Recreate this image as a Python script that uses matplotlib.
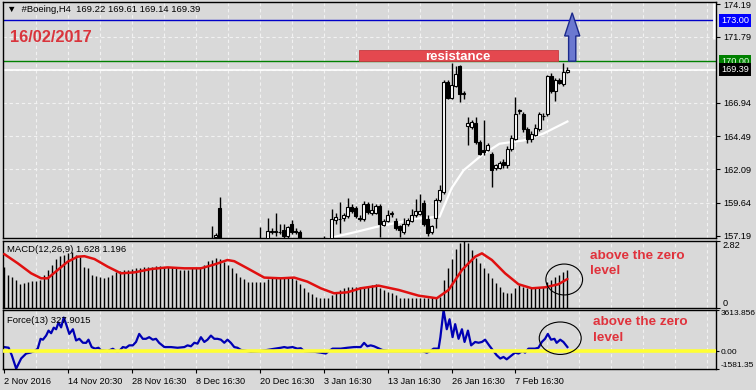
import matplotlib
matplotlib.use('Agg')
import matplotlib.pyplot as plt
import matplotlib.transforms as mtransforms
from matplotlib.patches import Rectangle, Ellipse, Polygon

plt.rcParams['font.family'] = ['Liberation Sans', 'DejaVu Sans']

# ---- price candles (bar index, open, high, low, close) ----
bar_idx = [52, 53, 54, 64, 66, 67, 68, 69, 70, 71, 72, 73, 74, 80, 82, 83, 84, 85, 86, 87,
           88, 89, 90, 91, 92, 93, 94, 95, 96, 97, 98, 99, 100, 101, 102, 103, 104, 105, 106, 107,
           108, 109, 110, 111, 112, 113, 114, 115, 116, 117, 118, 119, 120, 121, 122, 123, 124, 125, 126, 127,
           128, 129, 130, 131, 132, 133, 134, 135, 136, 137, 138, 139, 140, 141]
opens = [156.6, 157.12, 159.23, 156.8, 156.9, 157.50, 157.45, 157.50, 157.65, 157.20, 158.10, 157.55, 157.50, 156.9, 157.0, 158.35, 158.45, 158.50, 158.64, 159.30,
         159.25, 158.50, 158.40, 159.50, 158.85, 158.90, 159.37, 157.98, 158.28, 158.80, 158.30, 157.90, 157.45, 158.06, 158.30, 158.75, 158.80, 159.57, 158.40, 157.45,
         158.50, 159.80, 160.40, 168.50, 167.28, 168.20, 169.66, 167.60, 165.22, 165.20, 165.50, 164.10, 163.50, 163.50, 163.22, 162.15, 162.20, 162.60, 162.37, 163.60,
         164.30, 166.35, 166.10, 165.00, 164.30, 164.60, 165.00, 165.95, 166.16, 168.93, 167.84, 168.62, 168.35, 169.22]
highs = [157.91, 157.40, 160.05, 157.85, 158.50, 157.75, 158.90, 158.10, 158.10, 157.95, 158.35, 157.80, 157.60, 157.2, 159.15, 158.90, 159.66, 158.90, 159.95, 159.50,
         159.40, 158.70, 159.75, 159.70, 159.60, 159.50, 159.50, 158.40, 159.08, 159.00, 158.50, 158.00, 158.50, 158.50, 159.13, 159.88, 160.25, 159.81, 158.70, 158.00,
         160.00, 160.95, 168.60, 168.60, 169.90, 169.66, 169.70, 167.84, 165.90, 165.70, 165.94, 164.20, 165.72, 164.00, 163.33, 162.50, 162.70, 162.80, 163.80, 164.60,
         167.35, 166.50, 166.30, 165.20, 164.90, 165.40, 166.30, 166.20, 169.00, 169.10, 168.80, 168.75, 169.90, 169.61]
lows = [156.3, 156.90, 156.50, 156.5, 156.70, 157.35, 157.20, 157.30, 157.00, 157.00, 157.30, 157.30, 156.70, 156.8, 156.80, 158.10, 157.40, 158.30, 158.50, 158.90,
        158.50, 158.30, 158.30, 158.80, 158.70, 158.80, 157.10, 157.90, 158.20, 158.60, 157.60, 157.10, 157.30, 157.95, 158.20, 158.60, 158.70, 157.90, 157.20, 157.30,
        157.80, 159.70, 160.30, 167.20, 167.20, 168.10, 166.99, 167.25, 163.83, 165.00, 163.90, 163.10, 163.10, 163.40, 160.78, 162.00, 162.10, 162.20, 162.20, 163.40,
        164.20, 166.10, 164.80, 164.00, 164.10, 164.50, 164.90, 165.70, 166.00, 167.70, 167.11, 168.30, 168.20, 169.14]
closes = [156.8, 157.26, 156.80, 156.9, 157.55, 157.55, 157.52, 157.45, 157.20, 157.86, 157.50, 157.50, 156.90, 157.0, 158.42, 158.60, 158.40, 158.72, 159.30, 159.04,
          158.64, 158.45, 159.50, 158.95, 159.10, 159.37, 158.06, 158.28, 158.75, 158.85, 157.75, 157.62, 158.10, 158.35, 158.72, 159.00, 159.00, 158.06, 157.40, 157.92,
          159.85, 160.55, 168.50, 167.33, 168.28, 169.08, 167.62, 167.65, 165.50, 165.55, 164.07, 163.22, 163.35, 163.88, 162.00, 162.37, 162.55, 162.37, 163.60, 164.40,
          166.16, 166.40, 165.00, 164.30, 164.70, 165.10, 166.10, 166.00, 168.93, 167.84, 168.62, 168.40, 169.20, 169.39]

# white moving average on price
ma_x = [81, 82.5, 88, 93, 99, 103, 107.5, 109, 112, 115, 119.5, 124, 130, 135, 141]
ma_v = [157.0, 157.11, 157.48, 157.84, 158.2, 158.46, 158.57, 158.6, 160.69, 162.0, 163.1, 163.95, 164.19, 164.7, 165.58]

# ---- MACD(12,26,9) histogram, one value per bar 0..141 ----
macd_hist = [1.74, 1.41, 1.32, 1.18, 1.00, 1.04, 1.11, 1.13, 1.13, 1.18, 1.39, 1.62, 1.83, 2.06, 2.18, 2.25, 2.30, 2.37, 2.25, 2.16,
             1.74, 1.67, 1.41, 1.36, 1.32, 1.28, 1.32, 1.41, 1.50, 1.55, 1.60, 1.60, 1.64, 1.67, 1.67, 1.71, 1.72, 1.74, 1.76, 1.76,
             1.74, 1.72, 1.71, 1.67, 1.62, 1.60, 1.62, 1.67, 1.67, 1.74, 1.83, 1.97, 2.02, 2.11, 2.06, 1.95, 1.83, 1.67, 1.46, 1.32,
             1.22, 1.11, 1.11, 1.11, 1.11, 1.11, 1.22, 1.25, 1.28, 1.28, 1.28, 1.28, 1.28, 1.18, 1.00, 0.85, 0.69, 0.57, 0.48, 0.43,
             0.43, 0.43, 0.55, 0.66, 0.76, 0.85, 0.90, 0.90, 0.90, 0.90, 0.85, 0.90, 0.97, 1.00, 0.83, 0.76, 0.69, 0.62, 0.55, 0.43,
             0.43, 0.41, 0.41, 0.41, 0.41, 0.43, 0.41, 0.48, 0.41, 0.48, 1.18, 1.67, 2.06, 2.50, 2.72, 2.82, 2.72, 2.44, 2.09, 1.88,
             1.67, 1.46, 1.25, 1.04, 0.90, 0.69, 0.62, 0.62, 0.83, 0.97, 0.90, 0.83, 0.83, 0.83, 0.83, 0.90, 1.11, 1.18, 1.32, 1.41,
             1.50, 1.60]
sig_x = [0, 3.4, 6.75, 9.25, 10.9, 13.4, 15.9, 18.4, 20.1, 22.6, 25.9, 29.25, 32.6, 36.75, 40.9, 45.1, 49.25, 52.6, 55.9, 57.6,
         60.9, 65.1, 69.25, 72.6, 75.9, 79.25, 82.6, 85.9, 89.25, 93.75, 98.75, 103.75, 108.3, 111.25, 114.6, 117.9, 119.6, 122.1,
         125.4, 128.75, 132.1, 135.4, 138.75, 141]
sig_v = [2.27, 1.88, 1.46, 1.25, 1.25, 1.60, 1.95, 2.16, 2.18, 2.06, 1.74, 1.46, 1.50, 1.64, 1.71, 1.67, 1.67, 1.83, 2.02, 1.97,
         1.67, 1.28, 1.25, 1.28, 1.11, 0.83, 0.62, 0.66, 0.83, 0.94, 0.76, 0.52, 0.41, 0.76, 1.60, 2.16, 2.30, 2.02,
         1.46, 1.00, 0.83, 0.87, 1.00, 1.22]

# ---- Force(13) ----
force_x = [0, 1.1, 1.9, 3.0, 4.25, 5.5, 6.6, 7.6, 8.4, 9.1, 9.7, 10.5, 11.1, 11.75, 12.4, 13.0, 13.6, 14.25, 14.9, 15.5,
           16.3, 17.2, 18, 18.8, 19.7, 20.5, 21.1, 21.9, 22.75, 23.6, 24.25, 25.9, 27.2, 28, 28.8, 29.7, 30.5, 31.3, 32.2, 33,
           33.8, 34.7, 35.5, 36.3, 37.2, 38, 38.8, 40.1, 41.75, 43.4, 45.1, 45.9, 46.75, 47.6, 48.4, 49.25, 50.1, 50.9, 51.75, 52.6,
           53.4, 54.25, 55.1, 55.9, 56.75, 57.6, 58.4, 59.25, 60.9, 61.75, 64.25, 65.9, 67.6, 69.25, 70.1, 70.9, 72.2, 73.4, 74.25, 75.1,
           77.6, 79.25, 80.5, 81.3, 82.2, 84.25, 85.9, 87.6, 89.25, 90.1, 90.9, 91.75, 92.6, 93.4, 94.6, 96.25, 101.25, 104.6, 105.8, 106.7,
           107.5, 108.75, 109.2, 110, 110.8, 111.5, 112.25, 112.9, 113.75, 114.6, 115.25, 116.1, 116.9, 117.9, 118.75, 119.6, 120.4, 121.4, 122.5, 123.3,
           124.2, 125, 125.8, 127.1, 127.9, 128.75, 129.75, 130.4, 131.25, 132.9, 133.75, 134.6, 135.4, 136.1, 136.9, 137.75, 138.3, 139.2, 140, 141]
force_v = [350, 294, -372, -1550, -655, -222, -130, 0, 211, 1077, 1000, 1363, 1800, 1570, 2060, 1920, 2515, 2082, 2949, 2370,
           1510, 1920, 930, 1077, 730, 720, 1000, 350, 211, 290, 60, 0, 200, 0, 0, 350, 290, 500, 500, 800,
           1510, 1077, 1077, 1220, 1000, 1077, 720, 350, 350, 290, 350, 500, 420, 730, 650, 1220, 800, 1000, 1360, 1077,
           1077, 1000, 730, 1000, 720, 350, 290, 100, 0, -60, 0, 100, 200, 290, 350, 290, 350, 211, 250, 0,
           -60, -140, -220, 0, 211, 211, 290, 350, 350, 720, 420, 500, 420, 290, 100, 0, 0, 0, -140, 0,
           211, 211, 1220, 3613, 1920, 2800, 1220, 2370, 1077, 1920, 800, 1800, 500, 800, 730, 800, 1000, 500, 0, -372,
           -660, -520, -730, -372, -140, -220, 0, -140, 211, 211, 290, 800, 1077, 1510, 1000, 1077, 720, 1000, 800, 350]

# time axis
time_pos = [0, 16, 32, 48, 64, 80, 96, 112, 128]
time_labels = ['2 Nov 2016', '14 Nov 20:30', '28 Nov 16:30', '8 Dec 16:30', '20 Dec 16:30',
               '3 Jan 16:30', '13 Jan 16:30', '26 Jan 16:30', '7 Feb 16:30']
price_ticks = [157.19, 159.64, 162.09, 164.49, 166.94, 171.79, 174.19]
price_grid = [159.64, 162.09, 164.49, 166.94, 169.39, 171.79]

BG = '#d9d9d9'
GRID = '#f2f2f2'
RED_TXT = '#e0323c'
FS = 6.6

fig = plt.figure(figsize=(7.56, 3.9), dpi=100, facecolor=BG)
ax1 = fig.add_axes([3/756, 1-238/390, 713/756, 236/390], facecolor=BG)
ax2 = fig.add_axes([3/756, 1-308/390, 713/756, 67/390], facecolor=BG)
ax3 = fig.add_axes([3/756, 1-369/390, 713/756, 59/390], facecolor=BG)

grid_x = list(range(8, 178, 8))
for ax in (ax1, ax2, ax3):
    ax.set_xlim(-0.3, 178.2)
    ax.vlines(grid_x, 0, 1, transform=ax.get_xaxis_transform(), colors=GRID,
              lw=0.8, linestyles=(0, (3, 2.5)), zorder=0)
    for s in ax.spines.values():
        s.set_color('black')
        s.set_linewidth(1)
    ax.yaxis.tick_right()
    ax.tick_params(axis='y', length=3, pad=2, labelsize=FS, colors='black')

# ---- price panel ----
ax1.set_ylim(157.04, 174.34)
ax1.hlines(price_grid, 0, 1, transform=ax1.get_yaxis_transform(), colors=GRID,
           lw=0.8, linestyles=(0, (3, 2.5)), zorder=0)
ax1.axhline(173.0, color='#0000c8', lw=1, zorder=1)
ax1.axhline(170.0, color='#008000', lw=1, zorder=1)
ax1.axhline(169.39, color='white', lw=1.2, zorder=1)
ax1.plot(ma_x, ma_v, color='white', lw=1.6, zorder=2)

ax1.vlines(bar_idx, lows, highs, color='black', lw=1, zorder=3)
bottoms = [min(o, c) for o, c in zip(opens, closes)]
heights = [max(abs(c - o), 0.02) for o, c in zip(opens, closes)]
colors = ['white' if c >= o else 'black' for o, c in zip(opens, closes)]
ax1.bar(bar_idx, heights, bottom=bottoms, width=0.72, color=colors,
        edgecolor='black', linewidth=0.8, zorder=4)

ax1.set_xticks([])
ax1.set_yticks(price_ticks)
ax1.set_yticklabels(['%.2f' % v for v in price_ticks])

trans = mtransforms.blended_transform_factory(ax1.transAxes, ax1.transData)
for val, fc, tc in [(173.0, '#0000ff', 'white'), (170.0, '#008000', '#e8ffe8'), (169.39, 'black', 'white')]:
    ax1.text(1.0075, val, '%.2f' % val, transform=trans, ha='left', va='center', color=tc,
             fontsize=FS, clip_on=False, zorder=6,
             bbox=dict(boxstyle='square,pad=0.22', fc=fc, ec='none'))
ax1.vlines(177.6, 171.6, 174.34, color='white', lw=2, zorder=2)

# resistance box
ax1.add_patch(Rectangle((88.8, 170.0), 49.9, 0.82, fc='#e4484f', ec='#c43a40', lw=0.6, zorder=5))
ax1.text(113.6, 170.1, 'resistance', color='white', fontsize=9.5, fontweight='bold',
         ha='center', va='baseline', zorder=6)

# blue arrow
arrow = [(141.3, 170.0), (141.3, 171.85), (140.3, 171.85), (142.2, 173.55),
         (144.1, 171.85), (143.1, 171.85), (143.1, 170.0)]
ax1.add_patch(Polygon(arrow, closed=True, fc='#6b78d0', ec='#1c2a8c', lw=1, zorder=6))

fig.text(7/756, 1-10/390, '\u25bc  #Boeing,H4  169.22 169.61 169.14 169.39', fontsize=6.8,
         va='center', ha='left', family=['Liberation Sans', 'DejaVu Sans'])
fig.text(10/756, 1-37/390, '16/02/2017', color='#d9343c', fontsize=11.8, fontweight='bold',
         va='center', ha='left')

# ---- MACD panel ----
ax2.set_ylim(0, 2.82)
ax2.vlines(range(len(macd_hist)), 0, macd_hist, color='black', lw=1, zorder=2)
ax2.plot(sig_x, sig_v, color='#e01010', lw=1.8, zorder=3, solid_capstyle='round')
ax2.set_xticks([])
ax2.set_yticks([0, 2.82])
ax2.set_yticklabels(['0', '2.82'])
lbl = ax2.get_yticklabels()
lbl[0].set_va('bottom')
lbl[1].set_va('top')
ax2.text(0.006, 0.88, 'MACD(12,26,9) 1.628 1.196', transform=ax2.transAxes, fontsize=6.8,
         va='center', ha='left', zorder=5)
ax2.add_patch(Ellipse((140.2, 1.2), 9.2, 1.3, fill=False, ec='black', lw=0.8, zorder=4))
fig.text(590/756, 1-255.7/390, 'above the zero', color=RED_TXT, fontsize=9.7,
         fontweight='bold', va='center', ha='left')
fig.text(590/756, 1-271/390, 'level', color=RED_TXT, fontsize=9.7,
         fontweight='bold', va='center', ha='left')

# ---- Force panel ----
ax3.set_ylim(-1581.35, 3613.856)
ax3.plot(force_x, force_v, color='#0000b4', lw=1.6, zorder=2)
ax3.axhline(0, color='#ffff33', lw=2.6, zorder=3)
ax3.set_yticks([-1581.35, 0, 3613.856])
ax3.set_yticklabels(['-1581.35', '0.00', '3613.856'])
ax3.tick_params(axis='y', length=2, pad=1.5, labelsize=6.0)
lbl = ax3.get_yticklabels()
lbl[0].set_va('bottom')
lbl[2].set_va('top')
ax3.text(0.006, 0.83, 'Force(13) 327.9015', transform=ax3.transAxes, fontsize=6.8,
         va='center', ha='left', zorder=5)
ax3.add_patch(Ellipse((139.2, 1129), 10.5, 2857, fill=False, ec='black', lw=0.8, zorder=4))
fig.text(593/756, 1-322.3/390, 'above the zero', color=RED_TXT, fontsize=9.7,
         fontweight='bold', va='center', ha='left')
fig.text(593/756, 1-338.3/390, 'level', color=RED_TXT, fontsize=9.7,
         fontweight='bold', va='center', ha='left')

ax3.set_xticks(time_pos)
ax3.set_xticklabels(time_labels, ha='left')
ax3.tick_params(axis='x', length=3, pad=3, labelsize=FS, colors='black')

fig.savefig('out.png', dpi=100, facecolor=BG)
